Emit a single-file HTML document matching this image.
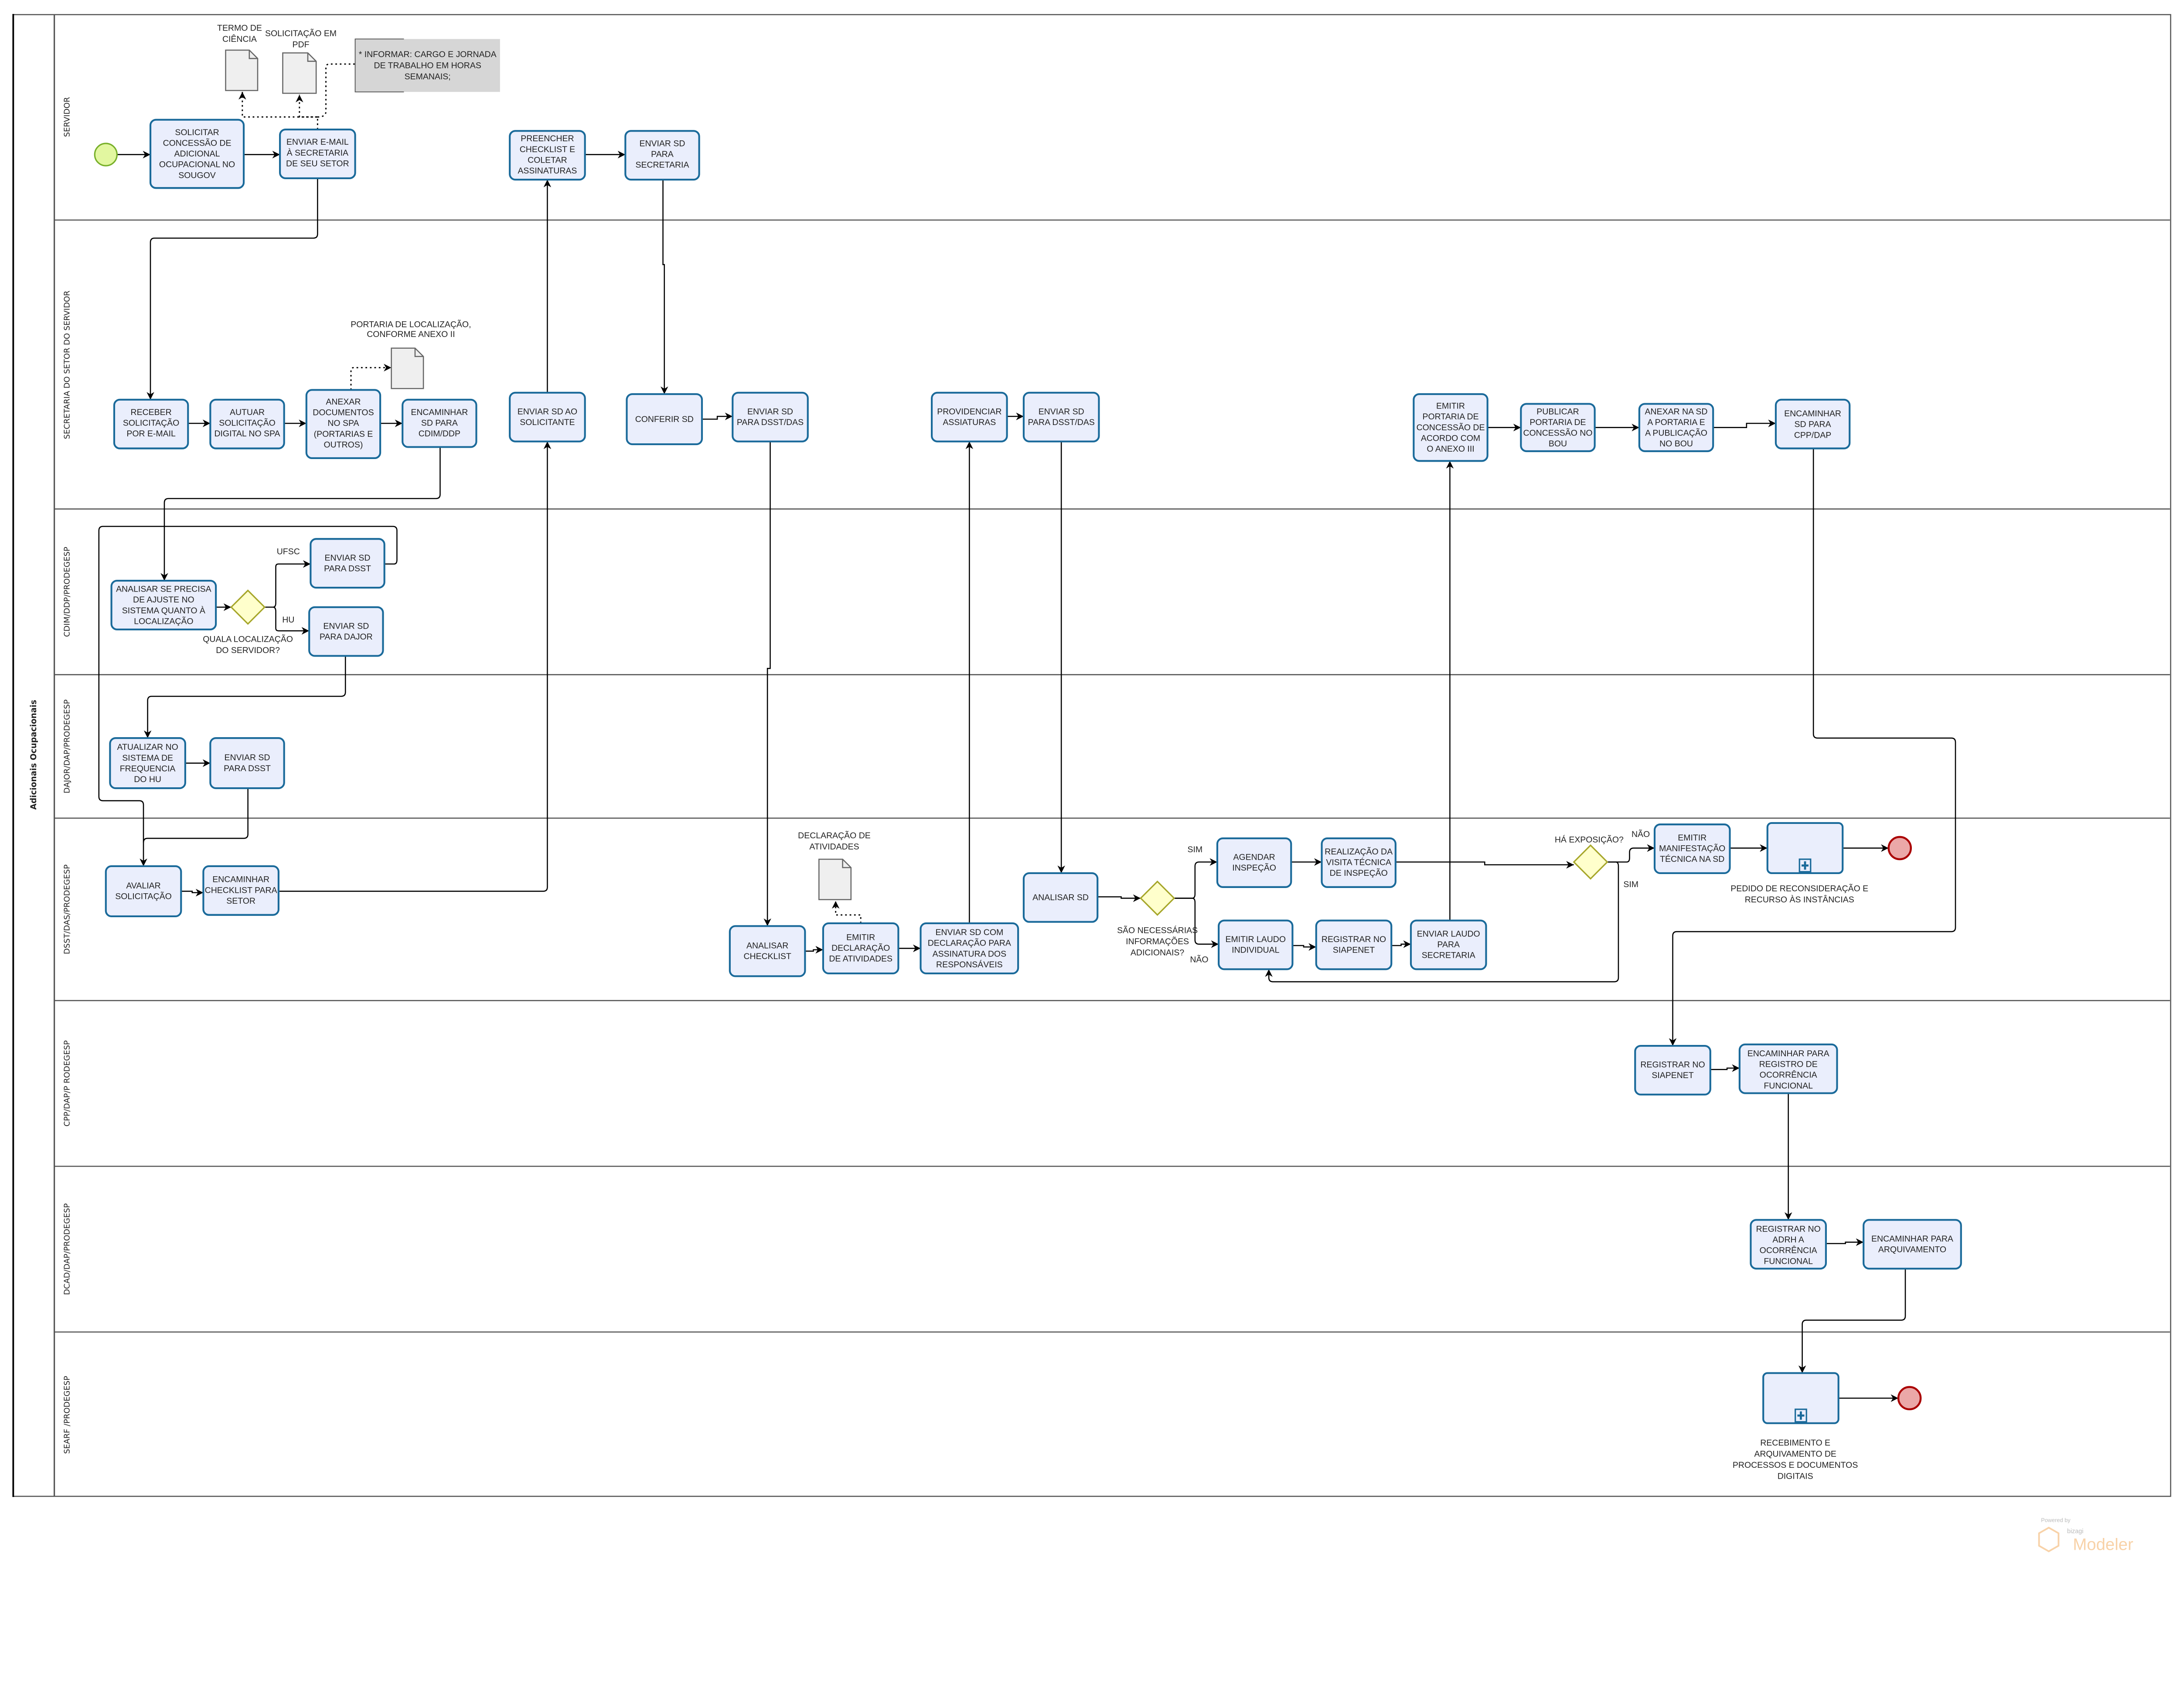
<!DOCTYPE html>
<html><head><meta charset="utf-8"><style>
html,body{margin:0;padding:0;background:#fff;overflow:hidden;}
svg{display:block;}
text{font-family:"Liberation Sans Narrow","Liberation Sans",sans-serif;font-size:6.1px;fill:#222;text-anchor:middle;}
.lane{font-family:"DejaVu Sans","Liberation Sans",sans-serif;font-size:5.6px;fill:#222;text-anchor:middle;}
.box{fill:#eaeefc;stroke:#1a6a9a;stroke-width:1.3;}
.ln{fill:none;stroke:#000;stroke-width:0.8;}
.dot{fill:none;stroke:#000;stroke-width:0.9;stroke-dasharray:1.2,2;}
.doc{fill:#efefef;stroke:#666;stroke-width:0.8;}
.gw{fill:#ffffcc;stroke:#a6a62a;stroke-width:1;}
</style></head><body>
<svg width="5290" height="3918" viewBox="0 0 1656 1226" preserveAspectRatio="xMinYMin meet" xmlns="http://www.w3.org/2000/svg">
<defs>
<marker id="a" viewBox="0 0 10 10" refX="10" refY="5" markerWidth="5.5" markerHeight="5.5" orient="auto" markerUnits="userSpaceOnUse"><path d="M0,0 L10,5 L0,10 L3,5 z" fill="#000"/></marker>
</defs>
<rect x="0" y="0" width="1656" height="1226" fill="#fff"/>
<!-- pool -->
<rect x="9.5" y="10.5" width="1549" height="1064" fill="none" stroke="#555" stroke-width="0.8"/>
<line x1="9.5" y1="10" x2="9.5" y2="1075" stroke="#000" stroke-width="1.2"/>
<line x1="39" y1="10.5" x2="39" y2="1074.5" stroke="#555" stroke-width="1"/>
<g stroke="#555" stroke-width="0.8">
<line x1="39" y1="158" x2="1558" y2="158"/>
<line x1="39" y1="365.5" x2="1558" y2="365.5"/>
<line x1="39" y1="484.5" x2="1558" y2="484.5"/>
<line x1="39" y1="587.5" x2="1558" y2="587.5"/>
<line x1="39" y1="718.5" x2="1558" y2="718.5"/>
<line x1="39" y1="837.5" x2="1558" y2="837.5"/>
<line x1="39" y1="956.5" x2="1558" y2="956.5"/>
</g>
<text transform="translate(26,542) rotate(-90)" style="font-family:'DejaVu Sans',sans-serif;font-weight:bold;font-size:5.8px;">Adicionais Ocupacionais</text>
<text class="lane" transform="translate(50,84) rotate(-90)">SERVIDOR</text>
<text class="lane" transform="translate(50,262) rotate(-90)">SECRETARIA DO SETOR DO SERVIDOR</text>
<text class="lane" transform="translate(50,425) rotate(-90)">CDIM/DDP/PRODEGESP</text>
<text class="lane" transform="translate(50,536) rotate(-90)">DAJOR/DAP/PRODEGESP</text>
<text class="lane" transform="translate(50,653) rotate(-90)">DSST/DAS/PRODEGESP</text>
<text class="lane" transform="translate(50,778) rotate(-90)">CPP/DAP/P RODEGESP</text>
<text class="lane" transform="translate(50,897) rotate(-90)">DCAD/DAP/PRODEGESP</text>
<text class="lane" transform="translate(50,1016) rotate(-90)">SEARF /PRODEGESP</text>

<!-- connectors -->
<g class="ln">
<path d="M84,111 H108" marker-end="url(#a)"/>
<path d="M175,111 H201" marker-end="url(#a)"/>
<path d="M228,128 V168 Q228,171 225,171 H111 Q108,171 108,174 V287" marker-end="url(#a)"/>
<path d="M135,304 H151" marker-end="url(#a)"/>
<path d="M204,304 H220" marker-end="url(#a)"/>
<path d="M273,304 H289" marker-end="url(#a)"/>
<path d="M316,321 V355 Q316,358 313,358 H121 Q118,358 118,361 V417" marker-end="url(#a)"/>
<path d="M155,436 H166" marker-end="url(#a)"/>
<path d="M190,436 H196 Q198,436 198,433 V407 Q198,405 200,405 H223" marker-end="url(#a)"/>
<path d="M190,436 H196 Q198,436 198,439 V451 Q198,453 200,453 H222" marker-end="url(#a)"/>
<path d="M276,405 H283 Q285,405 285,402 V381 Q285,378 282,378 H74 Q71,378 71,381 V572 Q71,575 74,575 H100 Q103,575 103,578 V622" marker-end="url(#a)"/>
<path d="M248,471 V497 Q248,500 245,500 H109 Q106,500 106,503 V530" marker-end="url(#a)"/>
<path d="M133,548 H151" marker-end="url(#a)"/>
<path d="M178,566 V599 Q178,602 175,602 H106 Q103,602 103,605"/>
<path d="M130,640 H138 V641 H146" marker-end="url(#a)"/>
<path d="M200,640 H390 Q393,640 393,637 V317" marker-end="url(#a)"/>
<path d="M393,282 V129" marker-end="url(#a)"/>
<path d="M420,111 H449" marker-end="url(#a)"/>
<path d="M476,129 V190 H477 V283" marker-end="url(#a)"/>
<path d="M504,301 H515 V299 H526" marker-end="url(#a)"/>
<path d="M553,317 V480 H551 V665" marker-end="url(#a)"/>
<path d="M578,683 H584 V682 H591" marker-end="url(#a)"/>
<path d="M645,681 H661" marker-end="url(#a)"/>
<path d="M696,663 V317" marker-end="url(#a)"/>
<path d="M723,299 H735" marker-end="url(#a)"/>
<path d="M762,317 V627" marker-end="url(#a)"/>
<path d="M788,644 H805 V645 H819" marker-end="url(#a)"/>
<path d="M843,645 H856 Q858,645 858,642 V622 Q858,619 861,619 H874" marker-end="url(#a)"/>
<path d="M843,645 H856 Q858,645 858,648 V675 Q858,678 861,678 H875" marker-end="url(#a)"/>
<path d="M927,619 H949" marker-end="url(#a)"/>
<path d="M1002,619 H1066 V621 H1130" marker-end="url(#a)"/>
<path d="M928,679 H936 V680 H945" marker-end="url(#a)"/>
<path d="M999,679 H1006 V678 H1013" marker-end="url(#a)"/>
<path d="M1041,661 V331" marker-end="url(#a)"/>
<path d="M1068,307 H1092" marker-end="url(#a)"/>
<path d="M1145,307 H1177" marker-end="url(#a)"/>
<path d="M1230,307 H1254 V304 H1275" marker-end="url(#a)"/>
<path d="M1154,619 H1168 Q1170,619 1170,616 V612 Q1170,609 1173,609 H1188" marker-end="url(#a)"/>
<path d="M1154,619 H1160 Q1162,619 1162,622 V702 Q1162,705 1159,705 H914 Q911,705 911,702 V696" marker-end="url(#a)"/>
<path d="M1242,609 H1269" marker-end="url(#a)"/>
<path d="M1323,609 H1356" marker-end="url(#a)"/>
<path d="M1302,322 V527 Q1302,530 1305,530 H1401 Q1404,530 1404,533 V666 Q1404,669 1401,669 H1204 Q1201,669 1201,672 V751" marker-end="url(#a)"/>
<path d="M1228,768 H1240 V767 H1249" marker-end="url(#a)"/>
<path d="M1284,785 V876" marker-end="url(#a)"/>
<path d="M1311,893 H1325 V892 H1338" marker-end="url(#a)"/>
<path d="M1368,911 V945 Q1368,948 1365,948 H1297 Q1294,948 1294,951 V986" marker-end="url(#a)"/>
<path d="M1320,1004 H1363" marker-end="url(#a)"/>
</g>
<!-- dotted associations -->
<g class="dot">
<path d="M228,93 V84 H174 V66" marker-end="url(#a)"/>
<path d="M228,84 H215 V68" marker-end="url(#a)"/>
<path d="M228,84 Q234,84 234,80 V48 Q234,46 237,46 H255"/>
<path d="M252,280 V266 Q252,264 254,264 H281" marker-end="url(#a)"/>
<path d="M618,663 V657 H600 V647" marker-end="url(#a)"/>
</g>

<!-- documents -->
<g class="doc">
<path d="M162,36 H179 L185,42 V65 H162 Z"/><path d="M179,36 V42 H185" fill="none"/>
<path d="M203,38 H221 L227,44 V67 H203 Z"/><path d="M221,38 V44 H227" fill="none"/>
<path d="M281,250 H298 L304,256 V279 H281 Z"/><path d="M298,250 V256 H304" fill="none"/>
<path d="M588,617 H605 L611,623 V646 H588 Z"/><path d="M605,617 V623 H611" fill="none"/>
</g>
<text x="172" y="22">TERMO DE</text><text x="172" y="30">CIÊNCIA</text>
<text x="216" y="26">SOLICITAÇÃO EM</text><text x="216" y="34">PDF</text>
<text x="295" y="235">PORTARIA DE LOCALIZAÇÃO,</text><text x="295" y="242">CONFORME ANEXO II</text>
<text x="599" y="602">DECLARAÇÃO DE</text><text x="599" y="610">ATIVIDADES</text>
<!-- note -->
<rect x="255" y="28" width="104" height="38" fill="#d6d6d6"/>
<path d="M290,28 H255 V66 H290" fill="none" stroke="#555" stroke-width="0.6"/>
<text x="307" y="41">* INFORMAR: CARGO E JORNADA</text>
<text x="307" y="49">DE TRABALHO EM HORAS</text>
<text x="307" y="57">SEMANAIS;</text>

<!-- events -->
<circle cx="76" cy="111" r="8" fill="#e2f7a0" stroke="#78b02a" stroke-width="1"/>
<circle cx="1364" cy="609" r="8" fill="#eba8a8" stroke="#a00" stroke-width="1.4"/>
<circle cx="1371" cy="1004" r="8" fill="#eba8a8" stroke="#a00" stroke-width="1.4"/>

<!-- gateways -->
<path class="gw" d="M178,424 L190,436 L178,448 L166,436 Z"/>
<path class="gw" d="M831,633 L843,645 L831,657 L819,645 Z"/>
<path class="gw" d="M1142,607 L1154,619 L1142,631 L1130,619 Z"/>
<text x="207" y="398">UFSC</text>
<text x="207" y="447">HU</text>
<text x="178" y="461">QUALA LOCALIZAÇÃO</text><text x="178" y="469">DO SERVIDOR?</text>
<text x="858" y="612">SIM</text>
<text x="831" y="670">SÃO NECESSÁRIAS</text><text x="831" y="678">INFORMAÇÕES</text><text x="831" y="686">ADICIONAIS?</text>
<text x="861" y="691">NÃO</text>
<text x="1141" y="605">HÁ EXPOSIÇÃO?</text>
<text x="1178" y="601">NÃO</text>
<text x="1171" y="637">SIM</text>
<text x="1292" y="640">PEDIDO DE RECONSIDERAÇÃO E</text><text x="1292" y="648">RECURSO ÀS INSTÂNCIAS</text>
<text x="1289" y="1038">RECEBIMENTO E</text><text x="1289" y="1046">ARQUIVAMENTO DE</text><text x="1289" y="1054">PROCESSOS E DOCUMENTOS</text><text x="1289" y="1062">DIGITAIS</text>

<!-- tasks -->
<g>
<rect class="box" x="108" y="86" width="67" height="49" rx="4"/>
<text x="141.5" y="97">SOLICITAR</text><text x="141.5" y="104.7">CONCESSÃO DE</text><text x="141.5" y="112.4">ADICIONAL</text><text x="141.5" y="120.1">OCUPACIONAL NO</text><text x="141.5" y="127.8">SOUGOV</text>
<rect class="box" x="201" y="93" width="54" height="35" rx="4"/>
<text x="228" y="104">ENVIAR E-MAIL</text><text x="228" y="111.7">À SECRETARIA</text><text x="228" y="119.4">DE SEU SETOR</text>
<rect class="box" x="366" y="94" width="54" height="35" rx="4"/>
<text x="393" y="101.5">PREENCHER</text><text x="393" y="109.2">CHECKLIST E</text><text x="393" y="116.9">COLETAR</text><text x="393" y="124.6">ASSINATURAS</text>
<rect class="box" x="449" y="94" width="53" height="35" rx="4"/>
<text x="475.5" y="105">ENVIAR SD</text><text x="475.5" y="112.7">PARA</text><text x="475.5" y="120.4">SECRETARIA</text>

<rect class="box" x="82" y="287" width="53" height="35" rx="4"/>
<text x="108.5" y="298">RECEBER</text><text x="108.5" y="305.7">SOLICITAÇÃO</text><text x="108.5" y="313.4">POR E-MAIL</text>
<rect class="box" x="151" y="287" width="53" height="35" rx="4"/>
<text x="177.5" y="298">AUTUAR</text><text x="177.5" y="305.7">SOLICITAÇÃO</text><text x="177.5" y="313.4">DIGITAL NO SPA</text>
<rect class="box" x="220" y="280" width="53" height="49" rx="4"/>
<text x="246.5" y="290.5">ANEXAR</text><text x="246.5" y="298.2">DOCUMENTOS</text><text x="246.5" y="305.9">NO SPA</text><text x="246.5" y="313.6">(PORTARIAS E</text><text x="246.5" y="321.3">OUTROS)</text>
<rect class="box" x="289" y="287" width="53" height="34" rx="4"/>
<text x="315.5" y="298">ENCAMINHAR</text><text x="315.5" y="305.7">SD PARA</text><text x="315.5" y="313.4">CDIM/DDP</text>
<rect class="box" x="366" y="282" width="54" height="35" rx="4"/>
<text x="393" y="297.5">ENVIAR SD AO</text><text x="393" y="305.2">SOLICITANTE</text>
<rect class="box" x="450" y="283" width="54" height="36" rx="4"/>
<text x="477" y="303">CONFERIR SD</text>
<rect class="box" x="526" y="282" width="54" height="35" rx="4"/>
<text x="553" y="297.5">ENVIAR SD</text><text x="553" y="305.2">PARA DSST/DAS</text>
<rect class="box" x="669" y="282" width="54" height="35" rx="4"/>
<text x="696" y="297.5">PROVIDENCIAR</text><text x="696" y="305.2">ASSIATURAS</text>
<rect class="box" x="735" y="282" width="54" height="35" rx="4"/>
<text x="762" y="297.5">ENVIAR SD</text><text x="762" y="305.2">PARA DSST/DAS</text>
<rect class="box" x="1015" y="283" width="53" height="48" rx="4"/>
<text x="1041.5" y="293.5">EMITIR</text><text x="1041.5" y="301.2">PORTARIA DE</text><text x="1041.5" y="308.9">CONCESSÃO DE</text><text x="1041.5" y="316.6">ACORDO COM</text><text x="1041.5" y="324.3">O ANEXO III</text>
<rect class="box" x="1092" y="290" width="53" height="34" rx="4"/>
<text x="1118.5" y="297.5">PUBLICAR</text><text x="1118.5" y="305.2">PORTARIA DE</text><text x="1118.5" y="312.9">CONCESSÃO NO</text><text x="1118.5" y="320.6">BOU</text>
<rect class="box" x="1177" y="290" width="53" height="34" rx="4"/>
<text x="1203.5" y="297.5">ANEXAR NA SD</text><text x="1203.5" y="305.2">A PORTARIA E</text><text x="1203.5" y="312.9">A PUBLICAÇÃO</text><text x="1203.5" y="320.6">NO BOU</text>
<rect class="box" x="1275" y="287" width="53" height="35" rx="4"/>
<text x="1301.5" y="299">ENCAMINHAR</text><text x="1301.5" y="306.7">SD PARA</text><text x="1301.5" y="314.4">CPP/DAP</text>

<rect class="box" x="80" y="417" width="75" height="35" rx="4"/>
<text x="117.5" y="425">ANALISAR SE PRECISA</text><text x="117.5" y="432.7">DE AJUSTE NO</text><text x="117.5" y="440.4">SISTEMA QUANTO À</text><text x="117.5" y="448.1">LOCALIZAÇÃO</text>
<rect class="box" x="223" y="387" width="53" height="35" rx="4"/>
<text x="249.5" y="402.5">ENVIAR SD</text><text x="249.5" y="410.2">PARA DSST</text>
<rect class="box" x="222" y="436" width="53" height="35" rx="4"/>
<text x="248.5" y="451.5">ENVIAR SD</text><text x="248.5" y="459.2">PARA DAJOR</text>

<rect class="box" x="79" y="530" width="54" height="36" rx="4"/>
<text x="106" y="538.5">ATUALIZAR NO</text><text x="106" y="546.2">SISTEMA DE</text><text x="106" y="553.9">FREQUENCIA</text><text x="106" y="561.6">DO HU</text>
<rect class="box" x="151" y="530" width="53" height="36" rx="4"/>
<text x="177.5" y="546">ENVIAR SD</text><text x="177.5" y="553.7">PARA DSST</text>

<rect class="box" x="76" y="622" width="54" height="36" rx="4"/>
<text x="103" y="638">AVALIAR</text><text x="103" y="645.7">SOLICITAÇÃO</text>
<rect class="box" x="146" y="622" width="54" height="35" rx="4"/>
<text x="173" y="633.5">ENCAMINHAR</text><text x="173" y="641.2">CHECKLIST PARA</text><text x="173" y="648.9">SETOR</text>
<rect class="box" x="524" y="665" width="54" height="36" rx="4"/>
<text x="551" y="681">ANALISAR</text><text x="551" y="688.7">CHECKLIST</text>
<rect class="box" x="591" y="663" width="54" height="36" rx="4"/>
<text x="618" y="675">EMITIR</text><text x="618" y="682.7">DECLARAÇÃO</text><text x="618" y="690.4">DE ATIVIDADES</text>
<rect class="box" x="661" y="663" width="70" height="36" rx="4"/>
<text x="696" y="671.5">ENVIAR SD COM</text><text x="696" y="679.2">DECLARAÇÃO PARA</text><text x="696" y="686.9">ASSINATURA DOS</text><text x="696" y="694.6">RESPONSÁVEIS</text>
<rect class="box" x="735" y="627" width="53" height="35" rx="4"/>
<text x="761.5" y="646.5">ANALISAR SD</text>
<rect class="box" x="874" y="602" width="53" height="35" rx="4"/>
<text x="900.5" y="617.5">AGENDAR</text><text x="900.5" y="625.2">INSPEÇÃO</text>
<rect class="box" x="949" y="602" width="53" height="35" rx="4"/>
<text x="975.5" y="613.5">REALIZAÇÃO DA</text><text x="975.5" y="621.2">VISITA TÉCNICA</text><text x="975.5" y="628.9">DE INSPEÇÃO</text>
<rect class="box" x="875" y="661" width="53" height="35" rx="4"/>
<text x="901.5" y="676.5">EMITIR LAUDO</text><text x="901.5" y="684.2">INDIVIDUAL</text>
<rect class="box" x="945" y="661" width="54" height="35" rx="4"/>
<text x="972" y="676.5">REGISTRAR NO</text><text x="972" y="684.2">SIAPENET</text>
<rect class="box" x="1013" y="661" width="54" height="35" rx="4"/>
<text x="1040" y="672.5">ENVIAR LAUDO</text><text x="1040" y="680.2">PARA</text><text x="1040" y="687.9">SECRETARIA</text>
<rect class="box" x="1188" y="592" width="54" height="35" rx="4"/>
<text x="1215" y="603.5">EMITIR</text><text x="1215" y="611.2">MANIFESTAÇÃO</text><text x="1215" y="618.9">TÉCNICA NA SD</text>
<rect class="box" x="1269" y="591" width="54" height="36" rx="3"/>
<rect x="1292" y="617" width="8" height="9" fill="#eaeefc" stroke="#1a6a9a" stroke-width="1"/>
<path d="M1296,618.5 V624.5 M1293.5,621.5 H1298.5" stroke="#1a6a9a" stroke-width="1.5"/>

<rect class="box" x="1174" y="751" width="54" height="35" rx="4"/>
<text x="1201" y="766.5">REGISTRAR NO</text><text x="1201" y="774.2">SIAPENET</text>
<rect class="box" x="1249" y="750" width="70" height="35" rx="4"/>
<text x="1284" y="758.5">ENCAMINHAR PARA</text><text x="1284" y="766.2">REGISTRO DE</text><text x="1284" y="773.9">OCORRÊNCIA</text><text x="1284" y="781.6">FUNCIONAL</text>
<rect class="box" x="1257" y="876" width="54" height="35" rx="4"/>
<text x="1284" y="884.5">REGISTRAR NO</text><text x="1284" y="892.2">ADRH A</text><text x="1284" y="899.9">OCORRÊNCIA</text><text x="1284" y="907.6">FUNCIONAL</text>
<rect class="box" x="1338" y="876" width="70" height="35" rx="4"/>
<text x="1373" y="891.5">ENCAMINHAR PARA</text><text x="1373" y="899.2">ARQUIVAMENTO</text>
<rect class="box" x="1266" y="986" width="54" height="36" rx="3"/>
<rect x="1289" y="1012" width="8" height="9" fill="#eaeefc" stroke="#1a6a9a" stroke-width="1"/>
<path d="M1293,1013.5 V1019.5 M1290.5,1016.5 H1295.5" stroke="#1a6a9a" stroke-width="1.5"/>
</g>

<!-- logo -->
<text x="1476" y="1093" style="font-size:4px;fill:#bbb;text-anchor:middle;font-family:'Liberation Sans',sans-serif;">Powered by</text>
<path d="M1471,1097 L1478,1101 V1110 L1471,1114 L1464,1110 V1101 Z" fill="none" stroke="#f8d2a8" stroke-width="1.2"/>
<text x="1490" y="1101" style="font-size:4.5px;fill:#bbb;text-anchor:middle;font-family:'Liberation Sans',sans-serif;">bizagi</text>
<text x="1510" y="1113" style="font-size:12px;fill:#f8d2a8;text-anchor:middle;font-family:'Liberation Sans',sans-serif;">Modeler</text>
</svg>
</body></html>
